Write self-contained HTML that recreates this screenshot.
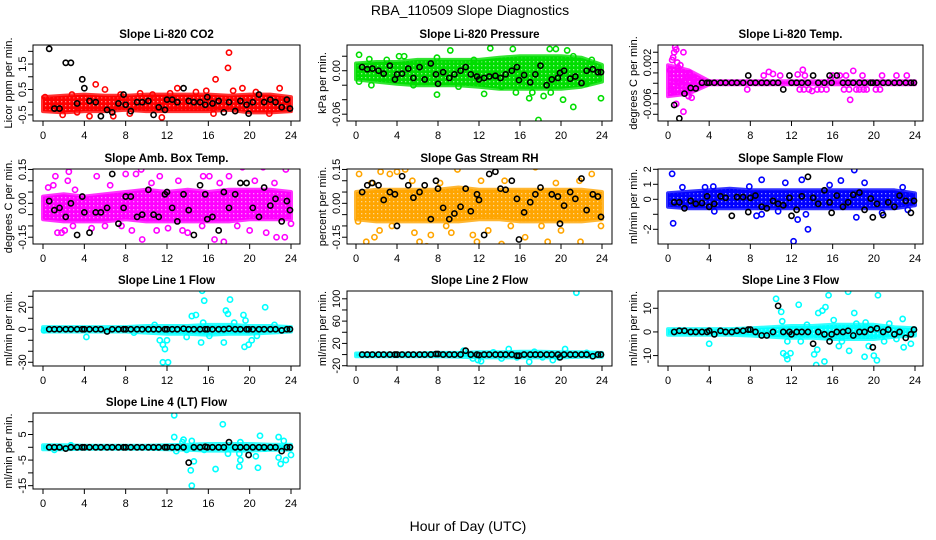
<!DOCTYPE html>
<html><head><meta charset="utf-8"><style>
html,body{margin:0;padding:0;background:#fff;}
svg{display:block;font-family:"Liberation Sans",Arial,sans-serif;}
</style></head><body>
<svg id="chart" width="936" height="540" viewBox="0 0 936 540" xmlns="http://www.w3.org/2000/svg">
<rect x="0" y="0" width="936" height="540" fill="#fff"/>
<text x="470" y="15" font-size="14" text-anchor="middle">RBA_110509  Slope Diagnostics</text>
<text x="468" y="531" font-size="14" text-anchor="middle">Hour of Day (UTC)</text>
</svg>
<script>
const xTicks = [0,4,8,12,16,20,24];
const bandHours = [0,2,4,6,8,10,12,14,16,18,20,22,24];
const blackHours = [0.6,1.1,1.6,2.2,2.7,3.3,3.8,4.0,4.5,5.1,5.6,6.2,6.7,7.3,7.8,8.0,8.5,9.1,9.6,10.2,10.7,11.2,11.8,12.0,12.5,13.0,13.6,14.1,14.6,15.2,15.7,15.9,16.4,17.0,17.5,18.0,18.6,19.1,19.7,19.9,20.3,20.9,21.4,22.0,22.5,23.1,23.6,23.9];

const titles = ["Slope Li-820 CO2","Slope Li-820 Pressure","Slope Li-820 Temp.","Slope Amb. Box Temp.","Slope Gas Stream RH","Slope Sample Flow","Slope Line 1 Flow","Slope Line 2 Flow","Slope Line 3 Flow","Slope Line 4 (LT) Flow"];
const yTitles = ["Licor ppm per min.","kPa per min.","degrees C per min.","degrees C per min.","percent per min.","ml/min per min.","ml/min per min.","ml/min per min.","ml/min per min.","ml/min per min."];
const colors = ["#ff0000","#00dd00","#ff00ff","#ff00ff","#ffa500","#0000ff","#00ffff","#00ffff","#00ffff","#00ffff"];
const yLims = [[-0.74,2.25],[-0.0694,0.0355],[-0.0093,0.0054],[-0.18,0.152],[-0.18,0.152],[-2.98,2.02],[-33.4,34.8],[-20.5,114],[-14.4,17.3],[-16.3,13.4]];
const yTicks = [[-0.5,0,0.5,1,1.5,2],[0.02,0,-0.02,-0.04,-0.06],[0.004,0.002,0,-0.002,-0.004,-0.006,-0.008],[0.15,0.1,0.05,0,-0.05,-0.1,-0.15],[0.15,0.1,0.05,0,-0.05,-0.1,-0.15],[2,1,0,-1,-2],[30,20,10,0,-10,-20,-30],[100,80,60,40,20,0,-20],[10,0,-10],[10,5,0,-5,-10,-15]];
const yTickLabels = [[[-0.5,"-0.5"],[0.5,"0.5"],[1.5,"1.5"]],[[0,"0.00"],[-0.06,"-0.06"]],[[0.002,"0.002"],[-0.006,"-0.006"]],[[0.15,"0.15"],[0,"0.00"],[-0.15,"-0.15"]],[[0.15,"0.15"],[0,"0.00"],[-0.15,"-0.15"]],[[2,"2"],[1,"1"],[0,"0"],[-2,"-2"]],[[20,"20"],[0,"0"],[-30,"-30"]],[[100,"100"],[60,"60"],[20,"20"],[-20,"-20"]],[[10,"10"],[0,"0"],[-10,"-10"]],[[5,"5"],[-5,"-5"],[-15,"-15"]]];

const bandLo = [
[-0.35,-0.4,-0.35,-0.35,-0.3,-0.35,-0.35,-0.35,-0.35,-0.3,-0.4,-0.4,-0.35],
[-0.012,-0.015,-0.018,-0.02,-0.02,-0.02,-0.022,-0.025,-0.025,-0.025,-0.025,-0.022,-0.015],
[-0.0045,-0.004,-0.0022,-0.0022,-0.0022,-0.0022,-0.0022,-0.0022,-0.0022,-0.0022,-0.0022,-0.0022,-0.0022],
[-0.07,-0.08,-0.08,-0.08,-0.07,-0.08,-0.08,-0.08,-0.08,-0.08,-0.07,-0.07,-0.07],
[-0.07,-0.08,-0.08,-0.08,-0.08,-0.08,-0.07,-0.07,-0.08,-0.08,-0.08,-0.08,-0.07],
[-0.5,-0.6,-0.6,-0.6,-0.6,-0.6,-0.6,-0.6,-0.6,-0.6,-0.6,-0.6,-0.4],
[-2,-2,-2,-2,-2,-3,-4,-4,-5,-4,-4,-3,-2],
[-3,-3,-3,-3,-3,-4,-5,-5,-5,-5,-5,-4,-4],
[-1.2,-1.2,-1.2,-1.2,-1.5,-2,-2.5,-2.5,-3,-3,-3,-2,-1.5],
[-0.8,-0.8,-0.6,-0.6,-0.6,-0.6,-0.8,-1,-1.3,-1.3,-1.3,-1,-1]];
const bandHi = [
[0.2,0.25,0.3,0.25,0.25,0.3,0.3,0.3,0.3,0.25,0.3,0.3,0.2],
[0.01,0.012,0.012,0.015,0.015,0.015,0.015,0.018,0.02,0.02,0.02,0.018,0.008],
[0.0015,0.0005,-0.0016,-0.0016,-0.0016,-0.0016,-0.0016,-0.0016,-0.0016,-0.0016,-0.0016,-0.0016,-0.0016],
[0.03,0.04,0.03,0.04,0.05,0.06,0.05,0.06,0.05,0.06,0.06,0.06,0.05],
[0.05,0.06,0.06,0.06,0.06,0.07,0.06,0.06,0.06,0.06,0.06,0.06,0.05],
[0.4,0.5,0.6,0.7,0.6,0.6,0.6,0.6,0.6,0.6,0.6,0.6,0.4],
[2,2,2,2,2,3,3,3,4,4,3,3,2],
[2,2,2,2,3,3,4,4,5,5,4,4,3],
[1.2,1.2,1.2,1.2,1.5,2,2.5,2.5,3,3,3,2,1.5],
[0.8,0.8,0.6,0.6,0.6,0.6,0.8,1,1.3,1.3,1.3,1,1]];

const outliers = [
[[18,1.95],[17.9,1.35],[16.7,0.9],[5.1,0.7],[4.5,-0.55],[6.8,-0.55],[11.5,-0.6],[1.9,-0.5],[13,0.55],[15.8,0.45],[18.4,0.45],[22.9,0.55],[19.3,0.55],[0.2,0.2],[8.4,-0.45],[3.3,-0.4],[12.3,0.35],[10.6,0.3],[20.6,0.4],[14.8,0.4],[2.8,0.3],[9.4,0.35],[7.5,0.3],[21.9,-0.45],[16.5,-0.45],[6,0.5]],
[[0.3,0.022],[1.3,0.016],[4.2,0.02],[4.7,0.02],[7.9,0.018],[9.2,0.028],[13.1,0.031],[15.3,0.03],[18.9,0.03],[19.5,0.03],[20.6,0.028],[21.2,0.02],[7.9,-0.033],[12.5,-0.032],[17.8,-0.068],[21.2,-0.05],[23.9,-0.038],[20.2,-0.04],[15.6,-0.03],[17.2,-0.03],[19,-0.03],[14.2,-0.022],[5.6,-0.02],[1.5,-0.02],[16.9,-0.038],[18.3,-0.035],[10,-0.022],[22.5,-0.018],[0.3,-0.015],[3,0.015],[11.5,0.015],[23,0.015]],
[[0.2,0.0005],[0.3,-0.003],[0.4,0.0025],[0.5,0.003],[0.6,0.004],[0.7,0.005],[0.8,0.0045],[0.9,0.002],[1.0,0.001],[1.1,-0.002],[1.2,0.0015],[1.3,-0.0035],[1.5,0.004],[1.6,-0.0014],[1.8,-0.0028],[2.0,-0.0045],[1.9,-0.0006],[2.1,0.0],[2.3,-0.0048],[1.5,-0.0075],[0.8,-0.006],[0.3,-0.0038],[2.4,-0.001],[2.6,-0.0013],[2.8,-0.0016],[1.7,-0.0035],[0.6,-0.0011],[7.7,-0.0032],[9.3,-0.0005],[9.8,0.0002],[10.2,-0.0002],[10.9,-0.0005],[12.6,-0.0003],[13.1,0.0006],[13.3,-0.0005],[12.8,-0.0032],[13.2,-0.0032],[13.7,-0.0032],[14.0,-0.0035],[14.5,-0.0032],[14.9,-0.0032],[15.4,-0.0032],[15.8,-0.0012],[16.7,-0.0005],[17.1,-0.0032],[17.6,-0.0032],[17.7,-0.0052],[18.0,0.0004],[18.3,-0.0032],[18.6,-0.0032],[19.0,-0.0032],[19.3,-0.0032],[18.9,-0.0005],[20.2,-0.0032],[20.6,-0.0032],[20.8,-0.0005],[22.2,-0.0005],[23.2,-0.0005],[16.0,-0.0005],[17.3,-0.0005]],
[[0.5,0.07],[1.2,0.12],[2.4,0.1],[2.5,0.14],[5.2,0.12],[8,0.13],[9,0.13],[9.3,0.17],[9.5,0.15],[11.3,0.12],[12.5,0.17],[15,0.18],[15.5,0.12],[16.1,0.12],[18,0.12],[19.3,0.16],[21.3,0.16],[23.5,0.15],[1.4,-0.13],[1.8,-0.13],[3.5,-0.22],[4.1,-0.2],[4.7,-0.11],[9.6,-0.16],[14,-0.13],[16.6,-0.16],[17.5,-0.17],[20,-0.12],[21.6,-0.13],[22.6,-0.15],[23.4,-0.15],[24,-0.09],[8.6,-0.12],[6,-0.1],[11,-0.12],[13.5,-0.12],[0.3,-0.06],[2.1,-0.12],[1.0,0.08],[3.1,0.06],[6.5,0.08],[10.5,0.09],[13.1,0.1],[17.1,0.09],[20.5,0.1],[22.4,0.09],[2.9,-0.1],[7.6,-0.1],[12.1,-0.11],[15.4,-0.1],[18.8,-0.1]],
[[0.4,0.19],[0.3,0.13],[2.4,0.14],[3.3,0.13],[4,0.14],[4.8,0.15],[9.9,0.15],[16,0.17],[17,0.17],[17.5,0.16],[23,0.13],[0.2,-0.08],[1,-0.17],[1.8,-0.15],[2.3,-0.12],[5.7,-0.13],[6.2,-0.17],[6.9,-0.19],[7.3,-0.14],[9.3,-0.13],[11.4,-0.14],[11.8,-0.17],[14.2,-0.18],[16.5,-0.15],[18.7,-0.17],[21.9,-0.17],[23.3,-0.22],[23.9,-0.1],[12.9,-0.12],[20,-0.12],[1.5,0.09],[5.5,0.1],[8.2,0.09],[12.2,0.1],[14.5,0.1],[19.5,0.09],[21.8,0.1],[3.5,-0.1],[8.8,-0.1],[15.1,-0.1],[18.1,-0.1]],
[[0.4,1.7],[0.5,-1.6],[9.1,1.3],[11.4,1.1],[13,1.3],[13.6,-2.0],[12.2,-2.8],[12.6,-1.35],[16.8,1.25],[18.1,1.95],[19.1,1.1],[22.8,0.8],[1.4,0.8],[3.6,0.8],[4.4,0.85],[7.9,0.85],[8.6,-1.1],[9.1,-1.0],[13.4,-1.0],[18.3,-1.2],[20.8,-0.9],[23.3,-0.7],[4.5,-0.8],[10.7,-0.8],[15.7,0.95]],
[[4.2,-7],[11.3,-10],[11.6,-14],[11.8,-18],[11.6,-30],[12.1,-30],[12,-10],[14.4,12],[14.8,13],[15.3,-12],[15.4,35],[15.6,26],[17.5,-12],[17.7,17],[17.9,14],[18.1,27],[19.4,13],[19.6,8],[19.5,-16],[19.9,-14],[20.2,-10],[21.5,20],[22.4,4],[15.5,6],[16.1,-6],[13.9,-7],[10.8,4],[0.1,-1],[18.5,6],[20.7,-6],[8.8,-3]],
[[21.5,111],[10.5,7],[14.9,10],[16.9,-13],[20.4,10],[11.9,-10],[12.2,-12],[11.4,-7],[19.2,-10],[17.4,5],[13.4,4],[14.2,-7],[15.7,-5],[19.8,-5],[23.1,-3],[22.5,3],[18.2,-5]],
[[10.5,14],[11,8.5],[12.7,11.5],[14.6,8],[15,9],[15.3,10.5],[15.6,15.5],[17.5,17],[18.1,8],[20.4,15.5],[11.2,-9],[11.5,-10],[11.9,-9],[11.6,-11.5],[14.4,-14],[14.2,-9.5],[14.5,-7.5],[15.2,-12.5],[16.6,-6],[17.6,-8],[19.1,-10.5],[20,-10],[20.3,-12],[19.5,-6],[22.9,-6.5],[23.6,-5],[22.8,5.5],[16.1,5],[4,-5],[11.1,4.5],[12.9,-4],[21.5,3.5],[18.3,3.5],[11.6,-4],[13.5,3],[16.9,-4],[19.2,4],[21.0,-4],[22.2,-3]],
[[12.7,12.5],[12.7,4],[13.6,3],[13.5,2],[14.4,2.5],[14.3,-9],[14.4,-15],[14.6,-5.5],[16.7,-8.5],[17.4,9],[19.1,2],[19.0,-2.5],[19.1,-5],[19.0,-7.5],[19.6,0],[20.6,-3.5],[20.8,-8],[21.0,4.5],[21.5,-0.5],[22.8,4],[22.8,-4],[23.0,-6.5],[23.3,2.5],[23.5,-5],[24,-3],[17.9,-2.5],[15.6,-1],[13.9,-1],[12.9,-1.5],[1.1,-1],[2.7,0.8]]];

const blackVals = [
[2.1,-0.25,-0.25,1.55,1.55,-0.05,0.9,0.55,0.05,0.0,-0.55,-0.3,-0.4,-0.05,0.3,-0.1,-0.35,0.0,0.0,0.05,-0.5,-0.2,-0.3,0.1,0.1,0.0,0.55,0.05,0.0,0.0,-0.1,0.2,-0.05,0.05,-0.4,0.0,-0.35,0.05,-0.1,-0.45,0.0,0.3,0.0,0.1,0.0,-0.2,0.1,-0.25],
[0.005,0.002,0.003,0.0,-0.004,0.007,-0.012,-0.005,-0.004,0.003,-0.01,0.005,-0.012,0.01,-0.005,-0.018,-0.002,-0.01,-0.005,0.0,0.005,-0.005,-0.008,-0.012,-0.01,-0.008,-0.007,-0.01,-0.005,0.0,0.005,-0.013,-0.006,-0.016,-0.005,0.007,-0.02,-0.012,-0.01,-0.003,0.0,-0.011,-0.008,-0.017,0.0,0.002,-0.002,-0.002],
[-0.0062,-0.0088,-0.004,-0.0029,-0.003,-0.0019,-0.0019,-0.0019,-0.0019,-0.0019,-0.0019,-0.0019,-0.0019,-0.0019,-0.0005,-0.0019,-0.0019,-0.0019,-0.0019,-0.0019,-0.0019,-0.0032,-0.0005,-0.0019,-0.0019,-0.0019,-0.0019,-0.0005,-0.0019,-0.0019,-0.0005,-0.0019,-0.0005,-0.0019,-0.0019,-0.0019,-0.0019,-0.0019,-0.0019,-0.0019,-0.0019,-0.0019,-0.0019,-0.0019,-0.0019,-0.0019,-0.0019,-0.0019],
[0.01,-0.03,-0.02,-0.06,0.0,-0.14,0.03,-0.04,-0.13,-0.04,-0.04,-0.02,0.13,-0.09,-0.02,0.03,0.03,-0.06,-0.05,0.06,-0.05,-0.06,0.04,0.05,-0.02,-0.08,0.04,-0.03,-0.14,0.08,0.04,-0.07,-0.06,-0.12,0.05,-0.02,0.04,0.09,0.09,-0.2,-0.02,-0.06,0.07,-0.01,0.02,-0.08,0.01,-0.03],
[0.05,0.08,0.09,0.08,0.015,0.05,0.04,-0.1,0.12,0.08,0.025,0.05,0.08,-0.07,0.1,0.065,-0.02,-0.07,-0.045,-0.015,0.065,-0.035,0.04,0.015,-0.14,0.13,0.14,0.065,0.06,0.1,0.02,-0.16,-0.04,0.005,0.04,0.07,0.18,0.04,0.03,-0.09,-0.01,0.05,0.02,0.11,-0.03,0.04,0.03,-0.06],
[-0.2,-0.2,-0.6,-0.1,-0.3,-0.25,0.2,-0.5,-0.3,0.2,0.1,-1.1,0.15,0.15,-0.85,0.1,0.25,-0.5,-0.6,-0.1,-0.3,-0.4,0.1,-1.1,-0.7,0.2,1.5,0.1,-0.3,0.6,-0.2,-0.9,0.25,-0.5,-0.2,0.3,0.45,-0.7,0.05,-1.2,-0.3,-1.05,-0.2,-0.5,0.25,-0.1,-0.9,-0.1],
[0,0,0,0,0,0,0,0,0,0,0,-2,0,0,0,0,0,0,0,0,0,0,0,0,0,0,0.5,0,0,0,0,0,0,0,0,0.5,0,0,0,0,0,0,0,0,0,-1,0,0],
[0,0,0,0,0,0,0,0,0,0,0,0,0,0,1,1,0,0,0,0,7,0,0,-1,0,0,0,0,0,0,-2,-2,0,0,0,0,0,0,0,-5,0,0,0,0,0,-3,0,0],
[0,0.5,0.5,0,0,0,0,0.5,-1,0.5,0,0,0.5,0.5,1,1,0,-1.5,-1.5,0,11,0,0,-1,0,0,0,-5,0,-1,-4,-1,0,0,0.5,-1.5,0,0,1,-6.5,1.5,0,1,-1,0,-2.5,-1,1],
[0,0,0,-0.5,0,0,0,0,0,0,0,0,0,0,0,0,0,0,0,0,0,0,0,0,0,0,0,-6,0,0,0.2,0,0,0,0,2,0,0,0,-3,0,0,0,0,0,-1.5,0,0]];

const boxL=[33,347,658], boxR=[300,612,923], px0=[43,356,668], px24=[291,602,915];
const boxT=[45,169,291,413], boxB=[121,244,366,489];
const NS='http://www.w3.org/2000/svg';
const svg=document.getElementById('chart');
function mk(tag,attrs,parent){const e=document.createElementNS(NS,tag);for(const k in attrs)e.setAttribute(k,attrs[k]);(parent||svg).appendChild(e);return e;}
const defs=mk('defs',{});

titles.forEach((title,p)=>{
  const c=p%3, r=Math.floor(p/3);
  const L=boxL[c],R=boxR[c],T=boxT[r],B=boxB[r];
  const [ymin,ymax]=yLims[p];
  const xs=h=>px0[c]+(px24[c]-px0[c])*h/24;
  const ys=v=>B-(v-ymin)/(ymax-ymin)*(B-T);
  // texture pattern for dense band
  const pat=mk('pattern',{id:'pat'+p,width:4,height:4,patternUnits:'userSpaceOnUse'},defs);
  mk('rect',{x:0,y:0,width:4,height:4,fill:colors[p]},pat);
  mk('rect',{x:1,y:1,width:1.3,height:1.3,fill:'#fff','fill-opacity':0.55},pat);
  const g=mk('g',{});
  
  
  const t=mk('text',{x:(L+R)/2,y:T-7,'font-size':11.5,'font-weight':'bold','text-anchor':'middle'},g);
  t.textContent=title;
  
  
  const clip=mk('clipPath',{id:'clip'+p},g);
  mk('rect',{x:L,y:T,width:R-L,height:B-T},clip);
  const plot=mk('g',{'clip-path':'url(#clip'+p+')'},g);
  
  
  let d='';
  bandHours.forEach((h,i)=>{d+=(i?'L':'M')+xs(h).toFixed(1)+','+ys(bandHi[p][i]).toFixed(1);});
  for(let i=bandHours.length-1;i>=0;i--){d+='L'+xs(bandHours[i]).toFixed(1)+','+ys(bandLo[p][i]).toFixed(1);}
  const band=mk('path',{d:d+'Z',fill:'url(#pat'+p+')',stroke:colors[p],'stroke-width':4,'stroke-linejoin':'round','stroke-opacity':0.8},plot);
  
  
  outliers[p].forEach(pt=>{
    const ci=mk('circle',{cx:xs(pt[0]),cy:ys(pt[1]),r:2.6,fill:'none',stroke:colors[p],'stroke-width':1.6},plot);
    
    
  });
  blackVals[p].forEach((v,i)=>{
    const ci=mk('circle',{cx:xs(blackHours[i]),cy:ys(v),r:2.6,fill:'none',stroke:'#000','stroke-width':1.6},plot);
    
    
  });
  const box=mk('rect',{x:L,y:T,width:R-L,height:B-T,fill:'none',stroke:'#000','stroke-width':1},g);
  
  
  const xa=mk('g',{},g);
  
  
  xTicks.forEach(h=>{
    mk('line',{x1:xs(h),x2:xs(h),y1:B,y2:B+5,stroke:'#000'},xa);
    const tl=mk('text',{x:xs(h),y:B+18,'font-size':11,'text-anchor':'middle'},xa);
    tl.textContent=String(h);
  });
  const ya=mk('g',{},g);
  
  
  yTicks[p].forEach(v=>{mk('line',{x1:L-5,x2:L,y1:ys(v),y2:ys(v),stroke:'#000'},ya);});
  yTickLabels[p].forEach(([v,s])=>{
    const yl=mk('text',{x:L-7,y:ys(v),'font-size':11,'text-anchor':'middle',transform:'rotate(-90 '+(L-7)+' '+ys(v)+')'},ya);
    yl.textContent=s;
  });
  const yt=mk('text',{x:L-21,y:(T+B)/2,'font-size':11,'text-anchor':'middle',transform:'rotate(-90 '+(L-21)+' '+(T+B)/2+')'},g);
  yt.textContent=yTitles[p];
  
  
});
</script>
</body></html>
